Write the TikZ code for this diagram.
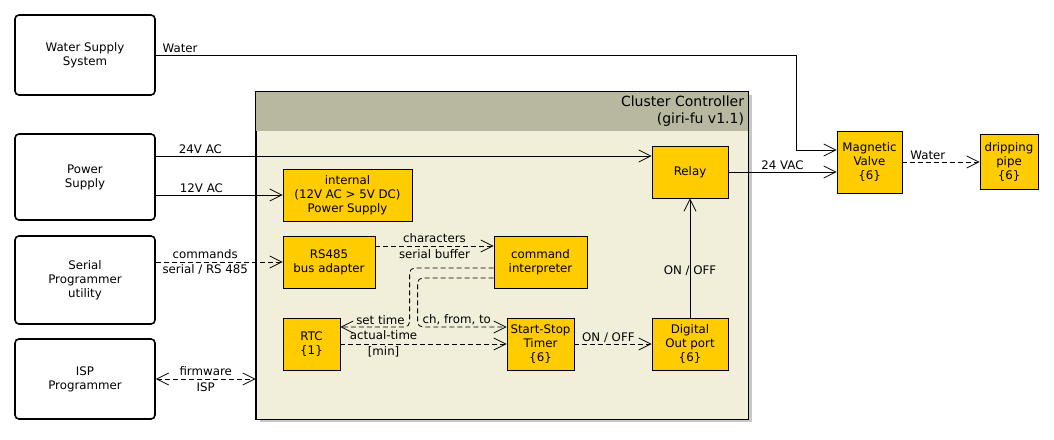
\documentclass[tikz,border=0pt]{standalone}
\usepackage{fontspec}
\setmainfont{DejaVu Sans}
\usetikzlibrary{arrows.meta,calc,positioning,shadows}
\definecolor{unitfill}{RGB}{255,204,0}
\definecolor{ctrlfill}{RGB}{241,239,218}
\definecolor{ctrlhead}{RGB}{184,184,160}
\definecolor{ctrlshadow}{RGB}{200,200,200}

\begin{document}
\begin{tikzpicture}
	[x=1pt,y=-1pt,font=\fontsize{11.8}{14}\selectfont,line width=0.8pt,
	>={Straight Barb[length=12pt,width=12pt]},
	actor/.style={draw,line width=1.6pt,rounded corners=4pt,fill=white,align=center,minimum width=140pt},
	unit/.style={draw,line width=0.8pt,fill=unitfill,align=center,inner sep=0pt},
	flow/.style={->},
	msg/.style={->,dash pattern=on 5pt off 3pt},
	lbl/.style={inner sep=1.5pt},
	twolbl/.style={align=center,inner sep=0pt,font=\fontsize{11.8}{15.5}\selectfont}]
	\useasboundingbox (0,0) rectangle (1054,439);

	% outside actors
	\node[actor,minimum height=80pt] (water) at (85,55) {Water Supply\\System};
	\node[actor,minimum height=86pt] (power) at (85,177) {Power\\Supply};
	\node[actor,minimum height=88pt] (serial) at (85,280) {Serial\\Programmer\\utility};
	\node[actor,minimum height=80pt] (isp) at (85,379) {ISP\\Programmer};

	% the controller board
	\node[draw,fill=ctrlfill,minimum width=492pt,minimum height=327pt,inner sep=0pt,
		drop shadow={shadow xshift=4pt,shadow yshift=-3pt,opacity=1,fill=ctrlshadow}] (cluster) at (502,255.5) {};
	\fill[ctrlhead] (cluster.north west) rectangle ($(cluster.north east)+(0,39)$);
	\draw (cluster.north west) rectangle (cluster.south east);
	\node[anchor=north east,align=right,inner sep=4pt,font=\fontsize{14}{17}\selectfont] (title) at (cluster.north east) {Cluster Controller\\(giri-fu v1.1)};

	\node[unit,minimum width=76pt,minimum height=52pt] (relay) at (690,172) {Relay};
	\node[unit,minimum width=129pt,minimum height=52pt] (ips) at (347.5,195) {internal\\(12V AC > 5V DC)\\Power Supply};
	\node[unit,minimum width=92pt,minimum height=52pt] (rs) at (329,262) {RS485\\bus adapter};
	\node[unit,minimum width=93pt,minimum height=52pt] (cmd) at (540.5,262) {command\\interpreter};
	\node[unit,minimum width=57pt,minimum height=52pt] (rtc) at (311.5,344) {RTC\\\{1\}};
	\node[unit,minimum width=67pt,minimum height=52pt] (timer) at (540.5,344) {Start-Stop\\Timer\\\{6\}};
	\node[unit,minimum width=76pt,minimum height=52pt] (dout) at (690,344) {Digital\\Out port\\\{6\}};

	% field side
	\node[unit,minimum width=65pt,minimum height=62pt] (valve) at (869.5,162) {Magnetic\\Valve\\\{6\}};
	\node[unit,minimum width=58pt,minimum height=55pt] (pipe) at (1009,162) {dripping\\pipe\\\{6\}};

	\coordinate (wbend) at (796,55);
	\draw[flow] (water.east) -- node[lbl,anchor=south west,pos=0,xshift=5pt]{Water} (wbend) |- ([yshift=12pt]valve.west);
	\draw[flow] ([yshift=21pt]power.east) -- node[lbl,above,pos=0.09]{24V AC} ([yshift=21pt]power.east -| relay.west);
	\draw[flow] (ips.west -| power.east) -- node[lbl,above,pos=0.36]{12V AC} (ips.west);
	\draw[flow] (relay.east) -- node[lbl,above]{24 VAC} (relay.east -| valve.west);
	\draw[msg] (valve.east) -- node[lbl,above,pos=0.33]{Water} (valve.east -| pipe.west);

	\draw[msg] (rs.west -| serial.east) -- node[twolbl,pos=0.39]{commands\\serial / RS 485} (rs.west);
	\draw[msg,<->] (isp.east) -- node[twolbl]{firmware\\ISP} (isp.east -| cluster.west);
	\draw[msg] ([yshift=16pt]rs.east) -- node[twolbl]{characters\\serial buffer} ([yshift=16pt]cmd.west);
	\draw[msg,rounded corners=5pt] ([yshift=-6pt]cmd.west) -- ++(-84,0) |- node[lbl,above,pos=0.71]{set time} ([yshift=17pt]rtc.east);
	\draw[msg,rounded corners=5pt] ([yshift=-16pt]cmd.west) -- ++(-76,0) |- node[lbl,above,pos=0.72]{ch, from, to} ([yshift=17pt]timer.west);
	\draw[msg] (rtc.east) -- node[twolbl,pos=0.26]{actual-time\\{[min]}} (timer.west);
	\draw[msg] (timer.east) -- node[lbl,above,pos=0.44]{ON / OFF} (dout.west);
	\draw[flow] (dout.north) -- node[pos=0.39]{ON / OFF} (relay.south);
\end{tikzpicture}
\end{document}
